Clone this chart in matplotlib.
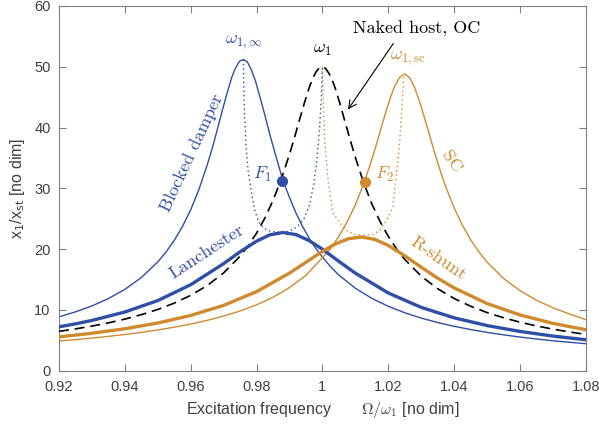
import matplotlib
matplotlib.use("Agg")
import matplotlib.pyplot as plt

BLUE = "#2f4ea6"
ORANGE = "#d08a2e"

# naked host, open circuit (black dashed)
host_x = [0.92, 0.925, 0.93, 0.935, 0.94, 0.945, 0.95, 0.955, 0.96, 0.965,
          0.97, 0.975, 0.9775, 0.98, 0.9825, 0.985, 0.9875, 0.99, 0.9915, 0.993,
          0.9945, 0.996, 0.997, 0.998, 0.999, 1.0, 1.001, 1.002, 1.003, 1.004,
          1.0055, 1.007, 1.0085, 1.01, 1.0125, 1.015, 1.0175, 1.02, 1.0225, 1.025,
          1.03, 1.035, 1.04, 1.045, 1.05, 1.055, 1.06, 1.065, 1.07, 1.075, 1.08]
host_y = [6.46, 6.87, 7.33, 7.86, 8.48, 9.21, 10.07, 11.11, 12.39, 14.0,
          16.08, 18.84, 20.58, 22.63, 25.08, 28.0, 31.5, 35.6, 38.3, 41.2,
          44.0, 46.6, 48.0, 49.1, 49.8, 50.0, 49.7, 48.9, 47.8, 46.3,
          43.6, 40.7, 37.85, 35.1, 30.96, 27.45, 24.54, 22.1, 20.04, 18.31,
          15.55, 13.48, 11.87, 10.6, 9.56, 8.70, 7.97, 7.36, 6.83, 6.37, 5.96]

# blocked damper (thin blue)
blk_x = [0.92, 0.925, 0.93, 0.935, 0.94, 0.945, 0.95, 0.9525, 0.955, 0.9575,
         0.96, 0.9625, 0.965, 0.9665, 0.968, 0.9695, 0.971, 0.9725, 0.9735, 0.9748,
         0.976, 0.9772, 0.9785, 0.9797, 0.981, 0.9825, 0.984, 0.986, 0.988, 0.990,
         0.992, 0.994, 0.996, 0.998, 1.0, 1.0025, 1.005, 1.01, 1.015, 1.02,
         1.025, 1.03, 1.035, 1.04, 1.045, 1.05, 1.055, 1.06, 1.065, 1.07, 1.075, 1.08]
blk_y = [8.85, 9.67, 10.65, 11.86, 13.37, 15.32, 17.89, 19.52, 21.44, 23.73,
         26.48, 29.82, 33.83, 36.5, 39.5, 42.6, 45.6, 48.3, 49.7, 50.9,
         51.2, 50.8, 49.4, 47.6, 45.1, 42.1, 38.9, 35.05, 31.3, 28.5,
         25.9, 23.69, 21.75, 20.09, 18.7, 17.07, 15.73, 13.56, 11.9, 10.59,
         9.53, 8.65, 7.92, 7.30, 6.76, 6.30, 5.89, 5.53, 5.21, 4.92, 4.67, 4.43]

# short circuit (thin orange)
sc_x = [0.92, 0.925, 0.93, 0.935, 0.94, 0.945, 0.95, 0.955, 0.96, 0.965,
        0.97, 0.975, 0.98, 0.985, 0.99, 0.995, 1.0, 1.0025, 1.005, 1.0075,
        1.01, 1.0115, 1.013, 1.0145, 1.016, 1.0175, 1.019, 1.0205, 1.022, 1.0235,
        1.025, 1.0265, 1.028, 1.0295, 1.031, 1.0325, 1.034, 1.0355, 1.037, 1.0385,
        1.04, 1.0425, 1.045, 1.0475, 1.05, 1.055, 1.06, 1.065, 1.07, 1.075, 1.08]
sc_y = [4.88, 5.11, 5.36, 5.64, 5.95, 6.30, 6.70, 7.15, 7.67, 8.27,
        8.98, 9.82, 10.83, 12.08, 13.66, 15.68, 18.6, 20.08, 22.1, 24.48,
        27.3, 29.32, 31.5, 33.9, 36.5, 39.3, 42.1, 44.7, 46.9, 48.3,
        48.8, 48.2, 46.6, 44.3, 41.6, 38.8, 36.0, 33.4, 30.95, 28.8,
        26.8, 23.93, 21.55, 19.55, 17.86, 15.18, 13.16, 11.59, 10.34, 9.33, 8.4]

# Lanchester damper (thick blue)
lan_x = [0.92, 0.925, 0.93, 0.94, 0.95, 0.96, 0.97, 0.975, 0.98, 0.984, 0.988, 0.992,
         0.996, 1.0, 1.005, 1.01, 1.02, 1.03, 1.04, 1.05, 1.06, 1.07, 1.08]
lan_y = [7.21, 7.70, 8.26, 9.65, 11.53, 14.14, 17.61, 19.56, 21.3, 22.34, 22.73, 22.38,
         21.39, 19.98, 17.98, 16.04, 12.78, 10.41, 8.69, 7.42, 6.45, 5.69, 5.08]

# resistive shunt (thick orange)
rsh_x = [0.92, 0.93, 0.94, 0.95, 0.96, 0.97, 0.98, 0.99, 0.995, 1.0, 1.004, 1.008, 1.012,
         1.016, 1.02, 1.025, 1.03, 1.035, 1.04, 1.05, 1.06, 1.07, 1.08]
rsh_y = [5.55, 6.15, 6.89, 7.84, 9.08, 10.74, 13.0, 16.05, 17.83, 19.63, 20.87, 21.72, 21.98,
         21.58, 20.6, 18.9, 17.02, 15.22, 13.62, 11.04, 9.17, 7.78, 6.73]

# peak loci (dotted)
locb_x = [0.976, 0.9761, 0.9763, 0.9768, 0.9775, 0.9784, 0.9794, 0.9806, 0.9822, 0.9843, 0.987,
          0.9898, 0.9922, 0.9944, 0.9961, 0.9973, 0.9983, 0.9991, 0.9997, 1.0]
locb_y = [51.2, 47.0, 43.0, 37.0, 32.5, 29.5, 26.5, 24.5, 23.4, 22.9, 22.8,
          22.9, 23.6, 25.0, 27.3, 30.5, 34.5, 39.5, 45.0, 50.0]
loco_x = [1.0, 1.0003, 1.0007, 1.0017, 1.0032, 1.0058, 1.0078, 1.0098, 1.0126, 1.0154, 1.0174,
          1.0199, 1.0214, 1.0225, 1.0235, 1.0241, 1.0245, 1.0247]
loco_y = [50.0, 44.0, 37.9, 31.4, 25.9, 24.0, 22.9, 22.4, 22.3, 22.4, 23.1,
          25.1, 27.0, 32.5, 37.9, 43.0, 46.5, 48.8]

fixed_pts = {"F1": (0.9878, 31.2), "F2": (1.0129, 31.0)}

fig = plt.figure(figsize=(5.99, 4.28), dpi=100)
ax = fig.add_axes([0.0985, 0.134, 0.8795, 0.852])

ax.plot(blk_x, blk_y, color=BLUE, lw=1.0, zorder=2)
ax.plot(sc_x, sc_y, color=ORANGE, lw=1.0, zorder=2)
ax.plot(host_x, host_y, color="k", lw=1.2, linestyle=(0, (6, 3.5)), zorder=3)
ax.plot(lan_x, lan_y, color=BLUE, lw=2.4, zorder=4)
ax.plot(rsh_x, rsh_y, color=ORANGE, lw=2.4, zorder=4)
ax.plot(locb_x, locb_y, color=BLUE, lw=1.0, linestyle=(0, (1, 2.2)), zorder=3)
ax.plot(loco_x, loco_y, color=ORANGE, lw=1.0, linestyle=(0, (1, 2.2)), zorder=3)
for (fx, fy), c in zip(fixed_pts.values(), [BLUE, ORANGE]):
    ax.plot([fx], [fy], "o", color=c, ms=7, zorder=5)

cm = dict(math_fontfamily="cm")
ax.text(0.976, 52.6, r"$\omega_{1,\infty}$", color=BLUE, fontsize=13, ha="center", va="bottom", **cm)
ax.text(1.0, 51.5, r"$\omega_1$", color="k", fontsize=13, ha="center", va="bottom", **cm)
ax.text(1.026, 50.0, r"$\omega_{1,\mathrm{sc}}$", color=ORANGE, fontsize=13, ha="center", va="bottom", **cm)
ax.text(1.0285, 56.3, "Naked host, OC", color="k", fontsize=13, family="cmr10",
        ha="center", va="center")
ax.annotate("", xy=(1.0073, 42.6), xytext=(1.022, 54.2),
            arrowprops=dict(arrowstyle="->", color="k", lw=0.8, mutation_scale=14))
ax.text(0.9604, 35.9, "Blocked damper", color=BLUE, fontsize=13, family="cmr10", rotation=65,
        ha="center", va="center")
ax.text(0.9648, 19.6, "Lanchester", color=BLUE, fontsize=13, family="cmr10", rotation=33,
        ha="center", va="center")
ax.text(0.9819, 32.2, r"$F_1$", color=BLUE, fontsize=13, ha="center", va="center", **cm)
ax.text(1.0189, 32.2, r"$F_2$", color=ORANGE, fontsize=13, ha="center", va="center", **cm)
ax.text(1.0392, 34.4, "SC", color=ORANGE, fontsize=13, family="cmr10", rotation=-55,
        ha="center", va="center")
ax.text(1.0353, 18.5, "R-shunt", color=ORANGE, fontsize=13, family="cmr10", rotation=-35,
        ha="center", va="center")

ax.set_xlim(0.92, 1.08)
ax.set_ylim(0, 60)
xt = [0.92, 0.94, 0.96, 0.98, 1.0, 1.02, 1.04, 1.06, 1.08]
ax.set_xticks(xt)
ax.set_xticklabels(["0.92", "0.94", "0.96", "0.98", "1", "1.02", "1.04", "1.06", "1.08"])
ax.set_yticks([0, 10, 20, 30, 40, 50, 60])
ax.tick_params(direction="in", top=True, right=True, length=5, width=0.8, colors="0.5",
               labelcolor="0.25", labelsize=10.5)
ax.tick_params(axis="x", pad=7)
ax.tick_params(axis="y", pad=6)
for lab in ax.get_xticklabels() + ax.get_yticklabels():
    lab.set_family("Liberation Sans")
for s in ax.spines.values():
    s.set_color("0.5")
    s.set_linewidth(0.8)

ax.set_xlabel(r"Excitation frequency       $\Omega/\omega_1$ [no dim]", fontsize=11.5,
              family="Liberation Sans", color="0.25", math_fontfamily="cm", labelpad=4)
ax.set_ylabel(r"x$_1$/x$_{\rm st}$ [no dim]", fontsize=11.5, family="Liberation Sans",
              color="0.25", labelpad=5)

fig.savefig("out.png", dpi=100)
